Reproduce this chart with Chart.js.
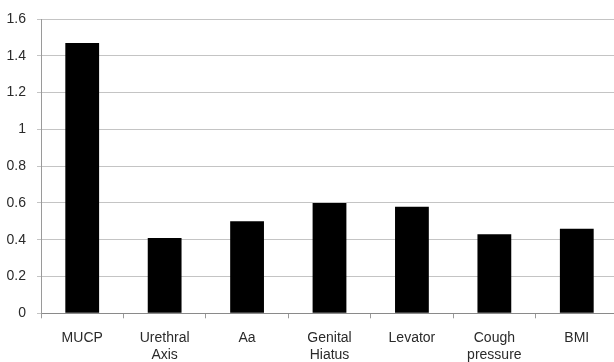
<!DOCTYPE html>
<html>
<head>
<meta charset="utf-8">
<script src="https://cdn.jsdelivr.net/npm/chart.js@4/dist/chart.umd.min.js"></script>
<style>
  html, body { margin: 0; padding: 0; background: #fff; overflow: hidden; }
  #wrap { width: 614px; height: 362px; overflow: hidden; position: relative; }
  #box { width: 618px; height: 362px; position: absolute; left: 0; top: 0; }
</style>
</head>
<body>
<div id="wrap"><div id="box"><canvas id="c"></canvas></div></div>
<script>
// Categories (multi-line labels as arrays)
const categories = [
  "MUCP",
  ["Urethral", "Axis"],
  "Aa",
  ["Genital", "Hiatus"],
  "Levator",
  ["Cough", "pressure"],
  "BMI"
];
// Bar heights
const values = [1.47, 0.41, 0.50, 0.60, 0.58, 0.43, 0.46];
// Y axis range and step
const yMin = 0;
const yMax = 1.6;
const yStep = 0.2;

const yFont = { family: "'Liberation Sans', Arial, sans-serif", size: 14, lineHeight: 1.15 };
const xFont = { family: "'Liberation Sans', Arial, sans-serif", size: 14, lineHeight: 1.24 };

new Chart(document.getElementById("c"), {
  type: "bar",
  data: {
    labels: categories,
    datasets: [{
      data: values,
      backgroundColor: "#000000",
      borderWidth: 0,
      categoryPercentage: 1.0,
      barPercentage: 0.41
    }]
  },
  options: {
    responsive: true,
    maintainAspectRatio: false,
    animation: false,
    layout: { padding: { top: 16, right: 0, bottom: 0, left: 0 } },
    plugins: { legend: { display: false }, tooltip: { enabled: false } },
    scales: {
      x: {
        grid: {
          offset: true,
          drawOnChartArea: false,
          drawTicks: true,
          tickLength: 5,
          color: "#9a9a9a"
        },
        border: { display: true, color: "#8a8a8a", width: 1 },
        ticks: {
          color: "#2a2a2a",
          font: xFont,
          padding: 11,
          maxRotation: 0,
          autoSkip: false
        },
        afterFit: (s) => { s.height = 48.7; }
      },
      y: {
        min: yMin,
        max: yMax,
        grid: {
          color: "#c4c4c4",
          lineWidth: 1,
          drawTicks: true,
          tickLength: 4
        },
        border: { display: true, color: "#9a9a9a", width: 1 },
        ticks: {
          stepSize: yStep,
          color: "#2a2a2a",
          font: yFont,
          padding: 11,
          callback: (v) => String(Math.round(v * 10) / 10)
        },
        afterFit: (s) => { s.width = 41; }
      }
    }
  }
});
</script>
</body>
</html>
